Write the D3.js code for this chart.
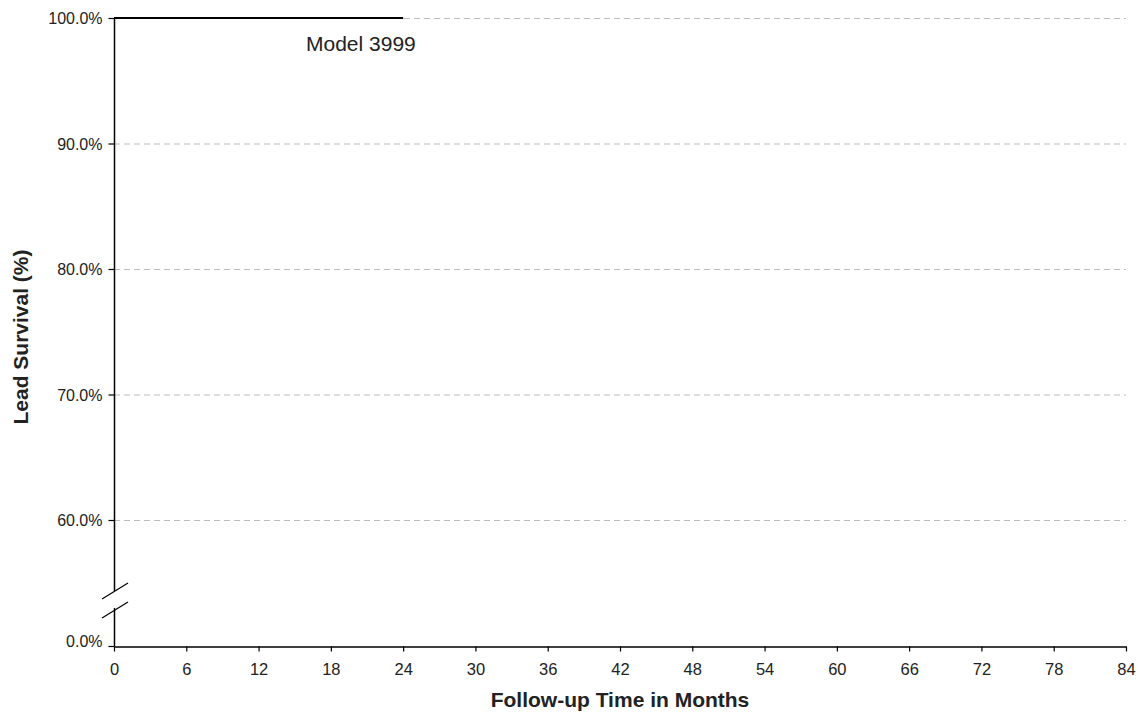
<!DOCTYPE html>
<html>
<head>
<meta charset="utf-8">
<script src="https://cdn.jsdelivr.net/npm/d3@7"></script>
<style>
body { margin: 0; background: #fff; }
text { font-family: "Liberation Sans", Arial, sans-serif; }
</style>
</head>
<body>
<div id="chart"></div>
<script>
var svgWidth = 1137
var svgHeight = 717
var margin = {top: 18, right: 11, bottom: 71, left: 114}

// data
var months = [0, 24]
var survival = [100, 100]
var xTicks = [0, 6, 12, 18, 24, 30, 36, 42, 48, 54, 60, 66, 72, 78, 84]
var yTicks = [0, 60, 70, 80, 90, 100]
var gridTicks = [60, 70, 80, 90, 100]
var seriesLabel = "Model 3999"

var svg = d3.select('#chart')
	.append('svg')
	.attr('width', svgWidth)
	.attr('height', svgHeight)

var x = d3.scaleLinear()
	.domain([0, 84])
	.range([margin.left, svgWidth - margin.right])

// broken axis: 0% sits right below the break, 60..100 is linear
var y = d3.scaleLinear()
	.domain([0, 60, 100])
	.range([svgHeight - margin.bottom, 520, margin.top])

// grid
svg.append('g')
	.selectAll('line')
	.data(gridTicks)
	.enter()
	.append('line')
	.attr('x1', x(0))
	.attr('x2', x(84))
	.attr('y1', function(d){return y(d) + 0.5})
	.attr('y2', function(d){return y(d) + 0.5})
	.attr('stroke', '#bbb')
	.attr('stroke-width', 1)
	.attr('stroke-dasharray', '6,4')

// x axis
var xAxis = svg.append('g')
	.attr('transform', 'translate(0,' + (y(0) + 0.5) + ')')
	.call(d3.axisBottom(x).tickValues(xTicks).tickSize(5).tickSizeOuter(0))
xAxis.select('.domain').attr('stroke', '#000').attr('stroke-width', 1.5)
xAxis.selectAll('.tick line').attr('stroke', '#000').attr('stroke-width', 1.2)
xAxis.selectAll('.tick text')
	.attr('y', 28)
	.attr('dy', 0)
	.style('font-size', '16.5px')
	.attr('fill', '#222')

// y axis (drawn with a gap for the break)
var yAxis = svg.append('g')
	.attr('transform', 'translate(' + (x(0) + 0.5) + ',0)')
	.call(d3.axisLeft(y).tickValues(yTicks).tickSize(6).tickSizeOuter(0)
		.tickFormat(function(d){return d3.format('.1f')(d) + '%'}))
yAxis.select('.domain').remove()
yAxis.selectAll('.tick line').attr('stroke', '#000').attr('stroke-width', 1.2)
yAxis.selectAll('.tick text')
	.attr('x', -12)
	.attr('dy', function(d){return d === 0 ? '0.05em' : '0.35em'})
	.style('font-size', '16px')
	.attr('fill', '#222')

var axisLine = svg.append('g')
	.attr('stroke', '#000')
	.attr('stroke-width', 1.5)
axisLine.append('line')
	.attr('x1', x(0) + 0.5).attr('x2', x(0) + 0.5)
	.attr('y1', y(100)).attr('y2', 591)
axisLine.append('line')
	.attr('x1', x(0) + 0.5).attr('x2', x(0) + 0.5)
	.attr('y1', 608).attr('y2', y(0))

// break marks
var breaks = svg.append('g')
	.attr('stroke', '#000')
	.attr('stroke-width', 1.2)
breaks.selectAll('line')
	.data([599, 618])
	.enter()
	.append('line')
	.attr('x1', x(0) - 12)
	.attr('x2', x(0) + 14)
	.attr('y1', function(d){return d})
	.attr('y2', function(d){return d - 16})

// series
var line = d3.line()
	.x(function(d){return x(d[0])})
	.y(function(d){return y(d[1])})
	.curve(d3.curveStepAfter)
svg.append('path')
	.datum(d3.zip(months, survival))
	.attr('d', line)
	.attr('fill', 'none')
	.attr('stroke', '#000')
	.attr('stroke-width', 2)

svg.append('text')
	.attr('x', 306)
	.attr('y', 51)
	.style('font-size', '21px')
	.attr('fill', '#222')
	.text(seriesLabel)

// axis titles
svg.append('text')
	.attr('x', (x(0) + x(84)) / 2)
	.attr('y', 707)
	.attr('text-anchor', 'middle')
	.style('font-size', '21px')
	.style('font-weight', 'bold')
	.attr('fill', '#222')
	.text('Follow-up Time in Months')

svg.append('text')
	.attr('transform', 'translate(28,' + ((y(0) + y(100)) / 2 + 5) + ') rotate(-90)')
	.attr('text-anchor', 'middle')
	.style('font-size', '21px')
	.style('font-weight', 'bold')
	.attr('fill', '#222')
	.text('Lead Survival (%)')
</script>
</body>
</html>
